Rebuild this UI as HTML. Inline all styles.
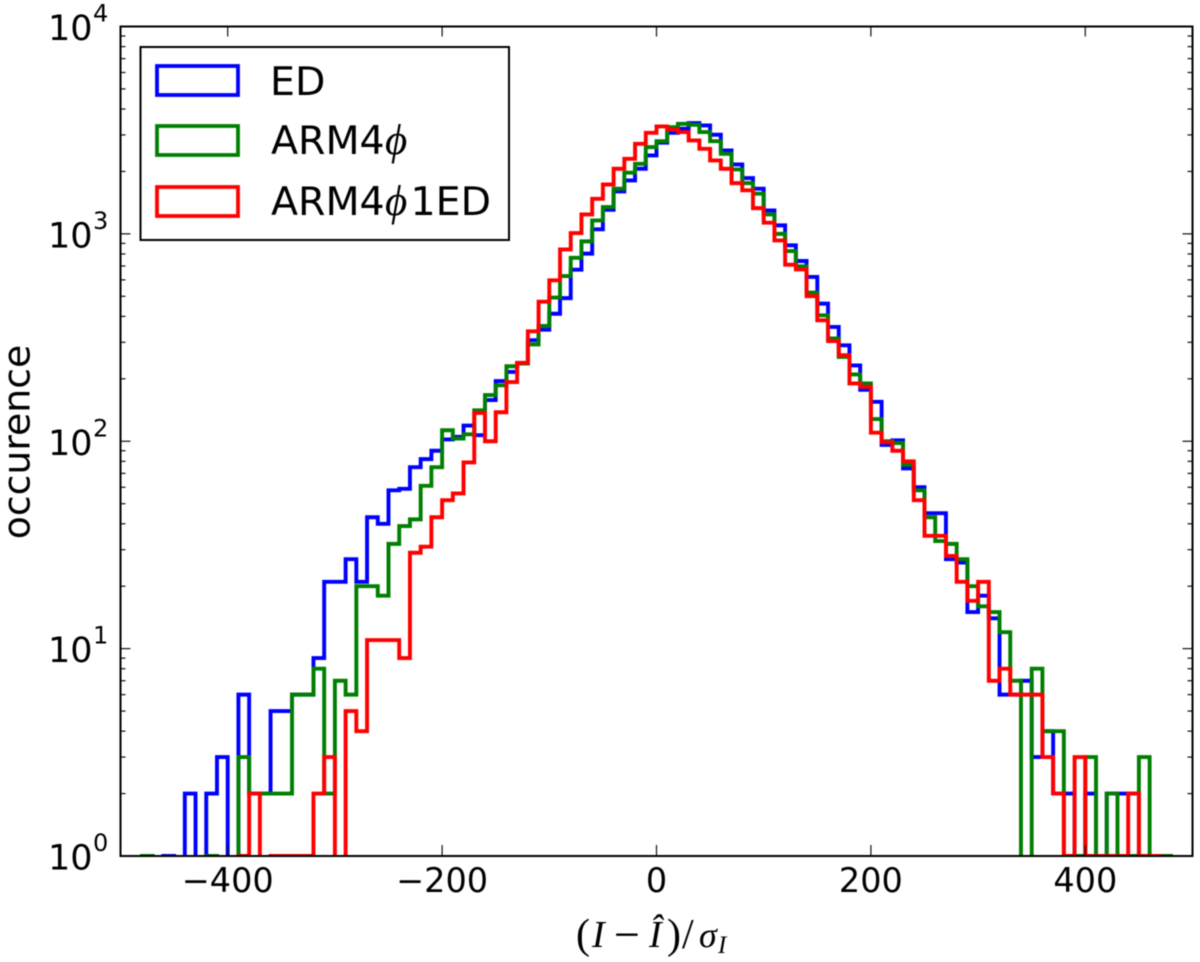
<!DOCTYPE html>
<html lang="en">
<head>
<meta charset="utf-8">
<title>Histogram of normalised residuals</title>
<style>
  html, body { margin: 0; padding: 0; background: #fff; }
  svg { display: block; filter: blur(0.4px); }
  text { font-family: "DejaVu Sans", "Liberation Sans", sans-serif; fill: #000; }
  .math { font-family: "Liberation Serif", "DejaVu Serif", serif; font-style: italic; }
  .upright { font-family: "Liberation Serif", "DejaVu Serif", serif; font-style: normal; }
</style>
</head>
<body>
<svg id="chart" xmlns="http://www.w3.org/2000/svg" width="1200" height="962" viewBox="0 0 1200 962">
  <defs>
    <clipPath id="plot-clip"><rect x="121" y="27" width="1071" height="829"></rect></clipPath>
  </defs>
  <rect x="0" y="0" width="1200" height="962" fill="#ffffff"></rect>
  <g id="series-layer" clip-path="url(#plot-clip)"></g>
  <g id="tick-layer"></g>
  <rect x="120.5" y="26.5" width="1072" height="829.5" fill="none" stroke="#000" stroke-width="2"></rect>
  <g id="label-layer"></g>

  <text transform="translate(29.5 442) rotate(-90)" text-anchor="middle" font-size="37.8">occurence</text>
  <text y="947" font-size="38">
    <tspan class="upright" x="576" y="948" font-size="42">(</tspan><tspan class="math" x="592" y="947" font-size="38">I</tspan><tspan class="upright" x="614" y="950" font-size="46">−</tspan><tspan class="math" x="649" y="947" font-size="38">Î</tspan><tspan class="upright" x="667" y="948" font-size="42">)</tspan><tspan class="upright" x="682" y="948" font-size="42">/</tspan><tspan class="math" x="699" y="947" font-size="36">σ</tspan><tspan class="math" x="718" y="953" font-size="25">I</tspan>
  </text>

  <g>
    <rect x="140.5" y="47" width="368.5" height="193" fill="#ffffff" stroke="#000" stroke-width="2"></rect>
    <rect x="157" y="66" width="81" height="29" fill="none" stroke="#0000ff" stroke-width="3.8"></rect>
    <text x="270" y="95" font-size="39.5">ED</text>
    <rect x="157" y="126" width="81" height="29" fill="none" stroke="#007f00" stroke-width="3.8"></rect>
    <text y="154" font-size="39.5"><tspan x="271">ARM4</tspan><tspan class="math" x="385" font-size="43">ϕ</tspan></text>
    <rect x="157" y="187" width="81" height="29" fill="none" stroke="#ff0000" stroke-width="3.8"></rect>
    <text y="215" font-size="39.5"><tspan x="271">ARM4</tspan><tspan class="math" x="385" font-size="43">ϕ</tspan><tspan x="410.5">1ED</tspan></text>
  </g>
</svg>

<script>
// Lower edge of every histogram bin
const binLowerEdges = [
  -490,-480,-470,-460,-450,-440,-430,-420,-410,-400,
  -390,-380,-370,-360,-350,-340,-330,-320,-310,-300,
  -290,-280,-270,-260,-250,-240,-230,-220,-210,-200,
  -190,-180,-170,-160,-150,-140,-130,-120,-110,-100,
  -90,-80,-70,-60,-50,-40,-30,-20,-10,0,
  10,20,30,40,50,60,70,80,90,100,
  110,120,130,140,150,160,170,180,190,200,
  210,220,230,240,250,260,270,280,290,300,
  310,320,330,340,350,360,370,380,390,400,
  410,420,430,440,450,460,470,480
];
const binWidth = 10;

// Occurrence counts per bin
const edCounts = [
  0,0,0,1,0,2,0,2,3,0,
  6,2,2,5,5,6,6,9,21,21,
  27,21,43,40,58,59,75,82,90,102,
  105,119,107,158,195,216,237,307,345,412,
  490,672,803,1052,1307,1602,1811,2061,2388,2754,
  3070,3214,3420,3334,3006,2525,2163,1858,1651,1297,
  1099,881,740,620,461,356,290,232,177,155,
  96,101,74,60,45,45,27,26,15,18,
  14,6,6,7,3,4,2,2,1,2,
  1,2,2,2,1,0,0,0
];
const arm4PhiCounts = [
  0,1,0,0,0,0,0,1,0,0,
  3,2,2,2,2,6,6,8,2,7,
  6,20,20,18,32,39,42,61,75,113,
  103,108,141,167,186,230,237,293,360,493,
  626,767,920,1161,1347,1651,1972,2178,2620,2800,
  3270,3396,3357,3097,2800,2433,2046,1757,1563,1241,
  1000,826,697,521,405,313,255,210,190,128,
  100,98,77,58,43,33,32,27,20,16,
  15,12,7,0,8,4,4,1,1,3,
  0,2,1,1,3,1,1,0
];
const arm4Phi1EdCounts = [
  0,0,0,0,0,0,0,0,0,0,
  1,2,0,1,1,1,1,2,3,0,
  5,4,11,11,11,9,29,31,43,52,
  56,79,137,100,138,193,239,339,471,597,
  841,1009,1241,1476,1730,2061,2301,2717,3070,3296,
  3189,3097,2823,2571,2260,2061,1757,1622,1331,1132,
  930,710,674,501,383,304,260,190,183,110,
  99,90,80,52,35,35,28,21,17,21,
  7,8,6,6,6,3,2,1,3,1,
  1,1,1,2,1,1,0,0
];

// Axis ticks and their labels
const xTickValues = [-400, -200, 0, 200, 400];
const xTickLabels = ['−400', '−200', '0', '200', '400'];
const yTickValues = [1, 10, 100, 1000, 10000];
const yTickExponents = ['0', '1', '2', '3', '4'];
const yMinorMultiples = [2, 3, 4, 5, 6, 7, 8, 9];

// Axis functions
const plotLeft = 120.5, plotRight = 1192.5, plotTop = 26.5, plotBottom = 856;
const xMin = -500, xMax = 500, yDecades = 4;
function xScale(v) {
  return plotLeft + (v - xMin) / (xMax - xMin) * (plotRight - plotLeft);
}
function yScale(v) {
  if (v <= 0) return plotBottom + 60;
  return plotBottom - Math.log10(v) / yDecades * (plotBottom - plotTop);
}

const NS = 'http://www.w3.org/2000/svg';
function make(tag, attrs, parent) {
  const node = document.createElementNS(NS, tag);
  for (const key in attrs) node.setAttribute(key, attrs[key]);
  parent.appendChild(node);
  return node;
}

function stepPath(counts) {
  let d = 'M' + xScale(binLowerEdges[0]).toFixed(2) + ' ' + (plotBottom + 60);
  counts.forEach(function (count, i) {
    const y = yScale(count).toFixed(2);
    d += 'L' + xScale(binLowerEdges[i]).toFixed(2) + ' ' + y;
    d += 'L' + xScale(binLowerEdges[i] + binWidth).toFixed(2) + ' ' + y;
  });
  d += 'L' + xScale(binLowerEdges[binLowerEdges.length - 1] + binWidth).toFixed(2) + ' ' + (plotBottom + 60);
  return d;
}

const seriesLayer = document.getElementById('series-layer');
const tickLayer = document.getElementById('tick-layer');
const labelLayer = document.getElementById('label-layer');

const edLine = make('path', { d: stepPath(edCounts), fill: 'none', stroke: '#0000ff', 'stroke-width': 3.9, 'stroke-linejoin': 'miter' }, seriesLayer);



const armLine = make('path', { d: stepPath(arm4PhiCounts), fill: 'none', stroke: '#007f00', 'stroke-width': 3.9, 'stroke-linejoin': 'miter' }, seriesLayer);



const armEdLine = make('path', { d: stepPath(arm4Phi1EdCounts), fill: 'none', stroke: '#ff0000', 'stroke-width': 3.9, 'stroke-linejoin': 'miter' }, seriesLayer);



const tickStyle = { stroke: '#111', 'stroke-width': 1.2 };

function tickLine(x1, y1, x2, y2) {
  return make('line', Object.assign({ x1: x1, y1: y1, x2: x2, y2: y2 }, tickStyle), tickLayer);
}

xTickValues.forEach(function (value, i) {
  const x = xScale(value);
  const bottomTick = tickLine(x, plotBottom, x, plotBottom - 11);
  
  
  const topTick = tickLine(x, plotTop, x, plotTop + 10);
  
  
  const label = make('text', { x: x, y: 892, 'text-anchor': 'middle', 'font-size': 33.5 }, labelLayer);
  label.textContent = xTickLabels[i];
  
  
});

yTickValues.forEach(function (value, i) {
  const y = yScale(value);
  if (i > 0 && i < yTickValues.length - 1) {
    const leftTick = tickLine(plotLeft, y, plotLeft + 10, y);
    
    
    const rightTick = tickLine(plotRight, y, plotRight - 10, y);
    
    
  }
  if (i < yTickValues.length - 1) {
    yMinorMultiples.forEach(function (multiple) {
      const my = yScale(value * multiple);
      const leftMinor = tickLine(plotLeft, my, plotLeft + 5, my);
      
      
      const rightMinor = tickLine(plotRight, my, plotRight - 5, my);
      
      
    });
  }
  const label = make('text', { x: 48, y: y + 13.5, 'font-size': 35 }, labelLayer);
  label.textContent = '10';
  
  
  const exponent = make('text', { x: 93, y: y - 5, 'font-size': 24 }, labelLayer);
  exponent.textContent = yTickExponents[i];
  
  
});
</script>
</body>
</html>
